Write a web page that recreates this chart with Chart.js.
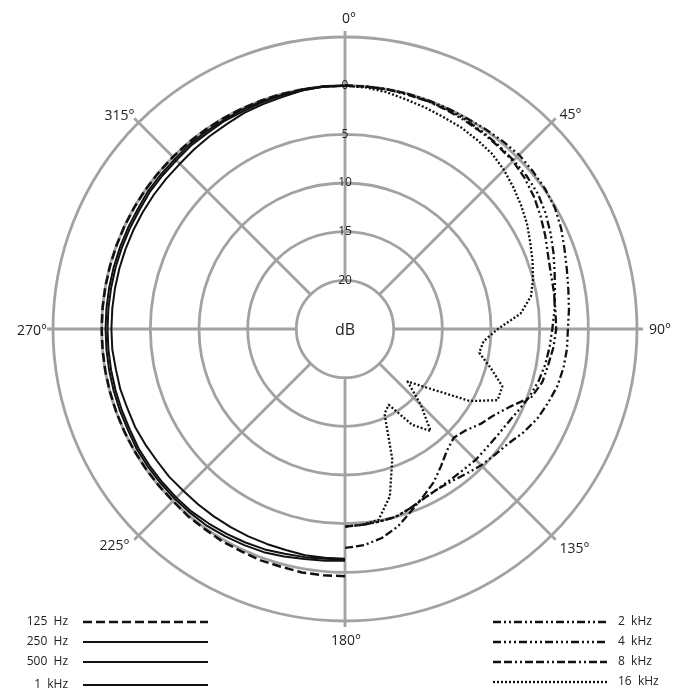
<!DOCTYPE html>
<html>
<head>
<meta charset="utf-8">
<script src="https://cdn.jsdelivr.net/npm/chart.js@4.4.1/dist/chart.umd.min.js"></script>
<style>
    html, body { margin: 0; padding: 0; background: #fff; }
    #wrap { position: relative; width: 678px; height: 698px; }
</style>
</head>
<body>
<div id="wrap"><canvas id="polar"></canvas></div>
<script>
// polar angles, every 5 degrees clockwise from 0° (front)
const angles = [0, 5, 10, 15, 20, 25, 30, 35, 40, 45, 50, 55, 60, 65, 70, 75, 80, 85,
    90, 95, 100, 105, 110, 115, 120, 125, 130, 135, 140, 145, 150, 155, 160, 165, 170, 175,
    180, 185, 190, 195, 200, 205, 210, 215, 220, 225, 230, 235, 240, 245, 250, 255, 260, 265,
    270, 275, 280, 285, 290, 295, 300, 305, 310, 315, 320, 325, 330, 335, 340, 345, 350, 355];

// low frequencies are drawn on the left half: values for 180°, 185° ... 355°, 360°
const hz125 = [0.4, 0.4, 0.4, 0.3, 0.3, 0.2, 0.2, 0.1, 0.1, 0, 0, 0, 0, 0, 0, 0, 0, 0,
    0, 0, 0, 0, 0, 0, 0, 0, 0, 0, 0, 0, 0, 0, 0, 0, 0, 0, 0];
const hz250 = [-1.2, -1.1, -1.0, -0.8, -0.6, -0.5, -0.4, -0.3, -0.3, -0.3, -0.3, -0.3, -0.3, -0.4, -0.4, -0.4, -0.4, -0.4,
    -0.4, -0.4, -0.4, -0.4, -0.4, -0.4, -0.4, -0.3, -0.3, -0.3, -0.2, -0.2, -0.2, -0.1, -0.1, -0.1, 0, 0, 0];
const hz500 = [-1.3, -1.3, -1.2, -1.1, -0.9, -0.8, -0.7, -0.6, -0.5, -0.5, -0.5, -0.5, -0.5, -0.6, -0.6, -0.6, -0.6, -0.6,
    -0.6, -0.6, -0.6, -0.6, -0.6, -0.6, -0.6, -0.5, -0.5, -0.5, -0.4, -0.4, -0.3, -0.3, -0.2, -0.1, -0.1, 0, 0];
const khz1 = [-1.4, -1.4, -1.4, -1.5, -1.5, -1.5, -1.5, -1.5, -1.5, -1.5, -1.4, -1.4, -1.3, -1.2, -1.2, -1.1, -1.1, -1.0,
    -1.0, -1.0, -1.0, -1.0, -1.0, -1.0, -1.0, -1.0, -1.0, -1.0, -0.9, -0.8, -0.7, -0.5, -0.4, -0.3, -0.1, 0, 0];

// high frequencies are drawn on the right half: values for 0°, 5° ... 180°
const khz2 = [0, 0, 0, 0, 0, 0, 0, 0.1, 0.2, 0.3, 0.2, 0.1, -0.1, -0.5, -1.0, -1.4, -1.7, -1.9,
    -2.1, -2.1, -2.2, -2.4, -2.8, -3.2, -3.8, -4.5, -4.9, -5.2, -5.6, -5.9, -6.0, -5.8, -5.4, -5.0, -4.9, -4.8, -4.7];
const khz4 = [0, 0, 0, 0, -0.1, -0.1, -0.2, -0.3, -0.4, -0.5, -0.6, -0.8, -1.2, -1.7, -2.2, -2.7, -3.1, -3.4,
    -3.7, -3.9, -4.1, -4.4, -4.8, -5.3, -5.7, -5.9, -6.0, -6.0, -6.1, -6.1, -6.0, -5.8, -5.4, -5.0, -4.9, -4.8, -4.7];
const khz8 = [0, 0, 0, -0.1, -0.1, -0.2, -0.3, -0.4, -0.5, -0.6, -0.9, -1.3, -1.8, -2.3, -2.8, -3.1, -3.2, -3.3,
    -3.3, -3.5, -3.8, -4.0, -4.6, -6.2, -7.3, -8.0, -8.8, -9.2, -8.7, -7.8, -6.8, -6.0, -5.1, -4.0, -3.2, -2.7, -2.5];
const khz16 = [0, -0.1, -0.3, -0.6, -0.8, -1.0, -1.1, -1.3, -1.5, -1.9, -2.4, -2.9, -3.4, -4.0, -4.5, -5.0, -5.6, -6.9,
    -9.3, -10.7, -11.0, -9.5, -7.8, -7.7, -10.2, -14.3, -16.6, -14.0, -11.3, -13.0, -16.0, -15.4, -10.8, -7.2, -5.1, -4.8, -4.7];

const seriesNames = ['125  Hz', '250  Hz', '500  Hz', '1  kHz', '2  kHz', '4  kHz', '8  kHz', '16  kHz'];

// direction labels round the outer ring
const directionAngles = [0, 45, 90, 135, 180, 225, 270, 315];
const directionLabels = ['0°', '45°', '90°', '135°', '180°', '225°', '270°', '315°'];

const FONT = '"Open Sans", "DejaVu Sans", sans-serif';
const INK = '#111';
const GRID = '#a2a2a2';

function rightHalf(values) {
    return angles.map(function (a, i) { return i <= 36 ? values[i] : null; });
}

function leftHalf(values) {
    return angles.map(function (a, i) {
        if (i === 0) return values[36];
        return i >= 36 ? values[i - 36] : null;
    });
}

function serie(label, data, dash, width) {
    return {
        label: label,
        data: data,
        borderColor: INK,
        backgroundColor: 'rgba(0,0,0,0)',
        borderWidth: width,
        borderDash: dash,
        borderJoinStyle: 'round',
        fill: false,
        spanGaps: false,
        pointRadius: 0,
        tension: 0
    };
}

const datasets = [
    serie(seriesNames[0], leftHalf(hz125), [9, 4], 2.5),
    serie(seriesNames[1], leftHalf(hz250), [], 2),
    serie(seriesNames[2], leftHalf(hz500), [], 2),
    serie(seriesNames[3], leftHalf(khz1), [], 2),
    serie(seriesNames[4], rightHalf(khz2), [8, 3, 2, 3, 2, 3], 2.3),
    serie(seriesNames[5], rightHalf(khz4), [8, 3, 2, 3, 2, 3, 2, 3], 2.3),
    serie(seriesNames[6], rightHalf(khz8), [8, 3, 8, 3, 2, 3, 2, 3], 2.3),
    serie(seriesNames[7], rightHalf(khz16), [2, 2], 2.3)
];

// spokes start at the inner (20 dB) ring, labels sit outside the outer ring
const polarFrame = {
    id: 'polarFrame',
    beforeDraw(chart) {
        const s = chart.scales.r;
        const ctx = chart.ctx;
        const rIn = s.getDistanceFromCenterForValue(-20);
        const rOut = s.getDistanceFromCenterForValue(5) + 6;
        ctx.save();
        ctx.strokeStyle = GRID;
        ctx.lineWidth = 2.8;
        directionAngles.forEach(function (deg) {
            const idx = angles.indexOf(deg);
            const a = s.getPointPosition(idx, rIn);
            const b = s.getPointPosition(idx, rOut);
            ctx.beginPath();
            ctx.moveTo(a.x, a.y);
            ctx.lineTo(b.x, b.y);
            ctx.stroke();
        });
        ctx.restore();
    },
    afterDraw(chart) {
        const s = chart.scales.r;
        const ctx = chart.ctx;
        const rOut = s.getDistanceFromCenterForValue(5);
        const place = {
            0: [4, -18, 'center'], 45: [8, -8, 'left'], 90: [12, 1, 'left'], 135: [8, 14, 'left'],
            180: [1, 20, 'center'], 225: [-9, 11, 'right'], 270: [-6, 2, 'right'], 315: [-4, -7, 'right']
        };

        ctx.save();
        ctx.fillStyle = '#222';
        ctx.font = '14px ' + FONT;
        ctx.textBaseline = 'middle';
        directionAngles.forEach(function (deg, k) {
            const p = s.getPointPosition(angles.indexOf(deg), rOut);
            const o = place[deg];
            ctx.textAlign = o[2];
            ctx.fillText(directionLabels[k], p.x + o[0], p.y + o[1]);
        });

        ctx.font = '16px ' + FONT;
        ctx.textAlign = 'center';
        ctx.fillText('dB', s.xCenter, s.yCenter + 1);

        // legend: low frequencies bottom left, high frequencies bottom right
        const rowsLeft = [622, 642, 662, 685];
        const rowsRight = [622, 642, 662, 682];
        ctx.font = '12px ' + FONT;
        chart.data.datasets.forEach(function (ds, i) {
            const left = i < 4;
            const y = left ? rowsLeft[i] : rowsRight[i - 4];
            const x1 = left ? 83 : 493;
            const x2 = left ? 208 : 607;
            ctx.save();
            ctx.strokeStyle = ds.borderColor;
            ctx.lineWidth = ds.borderWidth;
            ctx.setLineDash(ds.borderDash);
            ctx.beginPath();
            ctx.moveTo(x1, y);
            ctx.lineTo(x2, y);
            ctx.stroke();
            ctx.restore();
            ctx.fillStyle = '#222';
            ctx.textAlign = left ? 'right' : 'left';
            ctx.fillText(ds.label, left ? 68 : 618, y);
        });
        ctx.restore();
    }
};

new Chart(document.getElementById('polar'), {
    type: 'radar',
    data: {
        labels: angles,
        datasets: datasets
    },
    options: {
        responsive: true,
        maintainAspectRatio: false,
        animation: false,
        layout: {
            padding: { left: 45, top: 29, right: 33, bottom: 69 }
        },
        scales: {
            r: {
                min: -25,
                max: 5,
                startAngle: 0,
                beginAtZero: false,
                angleLines: { display: false },
                pointLabels: { display: false },
                grid: {
                    circular: true,
                    lineWidth: 2.8,
                    color: function (c) {
                        return c.tick && c.tick.value === -25 ? 'rgba(0,0,0,0)' : GRID;
                    }
                },
                ticks: {
                    stepSize: 5,
                    showLabelBackdrop: false,
                    backdropPadding: 2,
                    color: '#222',
                    font: { size: 12, family: FONT },
                    callback: function (v) {
                        return (v <= 0 && v > -25) ? String(-v) : '';
                    }
                }
            }
        },
        plugins: {
            legend: { display: false },
            tooltip: { enabled: false }
        }
    },
    plugins: [polarFrame]
});
</script>
</body>
</html>
